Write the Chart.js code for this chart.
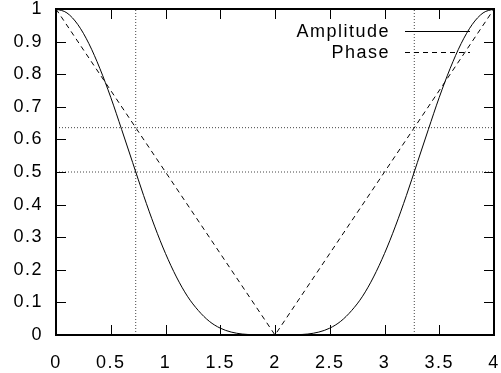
<!DOCTYPE html>
<html>
<head>
<meta charset="utf-8">
<script src="https://cdn.jsdelivr.net/npm/chart.js@4"></script>
<style>
  html, body { margin: 0; padding: 0; background: #fff; }
  #wrap { width: 501px; height: 373px; }
</style>
</head>
<body>
<div id="wrap"><canvas id="myChart" width="501" height="373"></canvas></div>
<script>
// x positions of the amplitude curve
const ampX = [0, 0.1, 0.2, 0.3, 0.4, 0.5, 0.6, 0.7, 0.8, 0.9, 1, 1.1, 1.2, 1.3, 1.4, 1.5, 1.6, 1.7, 1.8, 1.9, 2,
              2.1, 2.2, 2.3, 2.4, 2.5, 2.6, 2.7, 2.8, 2.9, 3, 3.1, 3.2, 3.3, 3.4, 3.5, 3.6, 3.7, 3.8, 3.9, 4]
// amplitude values
const ampY = [1, 0.988, 0.952, 0.894, 0.818, 0.729, 0.630, 0.529, 0.428, 0.334, 0.250, 0.178, 0.119, 0.075, 0.042, 0.021, 0.009, 0.003, 0.001, 0.000, 0,
              0.000, 0.001, 0.003, 0.009, 0.021, 0.042, 0.075, 0.119, 0.178, 0.250, 0.334, 0.428, 0.529, 0.630, 0.729, 0.818, 0.894, 0.952, 0.988, 1]
// phase line
const phaseX = [0, 2, 4]
const phaseY = [1, 0, 1]
// dotted guide lines
const vGuideX = [0.728, 3.272]
const hGuideY = [0.5, 0.636]
// tick labels
const xTicks = ['0', '0.5', '1', '1.5', '2', '2.5', '3', '3.5', '4']
const yTicks = ['0', '0.1', '0.2', '0.3', '0.4', '0.5', '0.6', '0.7', '0.8', '0.9', '1']
const seriesNames = ['Amplitude', 'Phase']

const FONT = { family: 'Liberation Sans, Arial, sans-serif', size: 18 }
const X0 = parseFloat(xTicks[0]), X1 = parseFloat(xTicks[xTicks.length - 1])
const Y0 = parseFloat(yTicks[0]), Y1 = parseFloat(yTicks[yTicks.length - 1])

function pts(xs, ys){
    var out = []
    for (let i = 0; i < xs.length; i++){
        out.push({x: xs[i], y: ys[i]})
    }
    return out
}

var guides = []
vGuideX.forEach(function(v){
    guides.push({data: [{x: v, y: Y0}, {x: v, y: Y1}], borderColor: '#444', borderWidth: 1,
                 borderDash: [1, 2], pointRadius: 0, fill: false})
})
hGuideY.forEach(function(v){
    guides.push({data: [{x: X0, y: v}, {x: X1, y: v}], borderColor: '#444', borderWidth: 1,
                 borderDash: [1, 2], pointRadius: 0, fill: false})
})

// wider letters, like the gnuplot output (canvas state is reset on resize, so set it each time)
const spacing = {
    id: 'spacing',
    beforeUpdate(chart){ chart.ctx.letterSpacing = '1.5px' },
    beforeDraw(chart){ chart.ctx.letterSpacing = '1.5px' }
}

// box round the plot, inward ticks on all four sides, and the key
const boxAndKey = {
    id: 'boxAndKey',
    afterDraw(chart){
        const c = chart.ctx
        const xs = chart.scales.x, ys = chart.scales.y
        const L = Math.round(xs.getPixelForValue(X0)), R = Math.round(xs.getPixelForValue(X1))
        const T = Math.round(ys.getPixelForValue(Y1)), B = Math.round(ys.getPixelForValue(Y0))
        c.save()
        c.setLineDash([])
        c.fillStyle = '#000'
        xTicks.forEach(function(t){
            const p = Math.round(xs.getPixelForValue(parseFloat(t)))
            c.fillRect(p, B - 10, 1, 10)
            c.fillRect(p, T, 1, 10)
        })
        yTicks.forEach(function(t){
            const p = Math.round(ys.getPixelForValue(parseFloat(t)))
            c.fillRect(L, p, 10, 1)
            c.fillRect(R - 10, p, 10, 1)
        })
        c.fillRect(L - 1, T - 1, R - L + 2, 2)
        c.fillRect(L - 1, B - 1, R - L + 2, 2)
        c.fillRect(L - 1, T - 1, 2, B - T + 2)
        c.fillRect(R - 1, T - 1, 2, B - T + 2)

        c.font = FONT.size + 'px ' + FONT.family
        c.textAlign = 'right'
        c.textBaseline = 'middle'
        c.strokeStyle = '#000'
        c.lineWidth = 1
        const rows = [31, 52]
        seriesNames.forEach(function(name, i){
            c.fillText(name, 390, rows[i] + 1)
            c.setLineDash(i === 0 ? [] : [5, 4])
            c.beginPath()
            c.moveTo(405, rows[i] + 0.5)
            c.lineTo(470, rows[i] + 0.5)
            c.stroke()
        })
        c.restore()
    }
}

new Chart(document.getElementById('myChart'), {
    type: 'line',
    data: {
        datasets: [
            {label: seriesNames[0], data: pts(ampX, ampY), borderColor: '#000', borderWidth: 1,
             pointRadius: 0, fill: false, cubicInterpolationMode: 'monotone'},
            {label: seriesNames[1], data: pts(phaseX, phaseY), borderColor: '#000', borderWidth: 1,
             borderDash: [5, 4], pointRadius: 0, fill: false}
        ].concat(guides)
    },
    options: {
        responsive: false,
        animation: false,
        layout: { padding: { top: 9, right: 7, left: 0, bottom: 0 } },
        plugins: { legend: { display: false }, tooltip: { enabled: false } },
        scales: {
            x: {
                type: 'linear', min: X0, max: X1,
                grid: { display: false, drawTicks: false },
                border: { display: true, color: '#000', width: 2 },
                afterBuildTicks: function(s){ s.ticks = xTicks.map(function(t){ return {value: parseFloat(t)} }) },
                afterFit: function(s){ s.height = 38; s.paddingLeft = 0; s.paddingRight = 0 },
                ticks: { color: '#000', font: FONT, padding: 17, maxRotation: 0, autoSkip: false,
                         callback: function(v, i){ return xTicks[i] } }
            },
            y: {
                type: 'linear', min: Y0, max: Y1,
                grid: { display: false, drawTicks: false },
                border: { display: true, color: '#000', width: 2 },
                afterBuildTicks: function(s){ s.ticks = yTicks.map(function(t){ return {value: parseFloat(t)} }) },
                afterFit: function(s){ s.width = 56; s.paddingTop = 0; s.paddingBottom = 0 },
                ticks: { color: '#000', font: FONT, padding: 13, autoSkip: false,
                         callback: function(v, i){ return yTicks[i] } }
            }
        }
    },
    plugins: [spacing, boxAndKey]
})
</script>
</body>
</html>
